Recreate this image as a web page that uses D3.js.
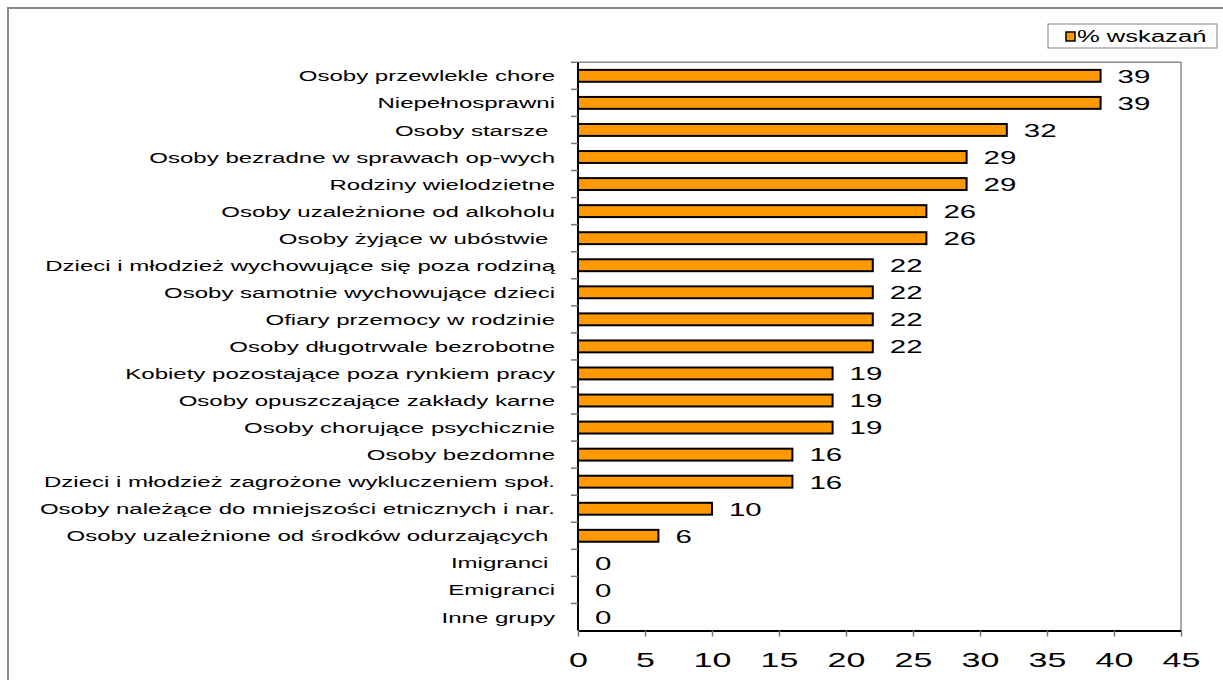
<!DOCTYPE html>
<html><head><meta charset="utf-8">
<script src="https://cdn.jsdelivr.net/npm/d3@7"></script>
<style>
html,body{margin:0;padding:0;background:#fff;}
svg{display:block;}
text{font-family:"Liberation Sans", Arial, sans-serif;white-space:pre;}
</style></head>
<body>
<svg id="chart" width="1223" height="680"></svg>
<script>
const categories = [
  "Osoby przewlekle chore",
  "Niepełnosprawni",
  "Osoby starsze ",
  "Osoby bezradne w sprawach op-wych",
  "Rodziny wielodzietne",
  "Osoby uzależnione od alkoholu",
  "Osoby żyjące w ubóstwie ",
  "Dzieci i młodzież wychowujące się poza rodziną",
  "Osoby samotnie wychowujące dzieci",
  "Ofiary przemocy w rodzinie",
  "Osoby długotrwale bezrobotne",
  "Kobiety pozostające poza rynkiem pracy",
  "Osoby opuszczające zakłady karne",
  "Osoby chorujące psychicznie",
  "Osoby bezdomne",
  "Dzieci i młodzież zagrożone wykluczeniem społ.",
  "Osoby należące do mniejszości etnicznych i nar.",
  "Osoby uzależnione od środków odurzających ",
  "Imigranci ",
  "Emigranci",
  "Inne grupy"
];
const values = [39,39,32,29,29,26,26,22,22,22,22,19,19,19,16,16,10,6,0,0,0];
const xTicks = [0,5,10,15,20,25,30,35,40,45];
const seriesName = "% wskazań";

const svg = d3.select("#chart");
const L = 578, R = 1181, T = 62.3, B = 630.5;
const SX = 1.55; // horizontal stretch of the original's text

// outer chart border (top and left visible)
svg.append("path").attr("d", `M8,680 L8,8 L1223,8`).attr("fill","none")
  .attr("stroke","#8a8a8a").attr("stroke-width",2);

const x = d3.scaleLinear().domain([0,45]).range([L,R]);
const y = d3.scaleBand().domain(categories).range([T,B]).paddingInner(0.56).paddingOuter(0.28);

// plot-area border (top & right gray)
svg.append("path").attr("d", `M${L},${T} L${R},${T} L${R},${B}`).attr("fill","none")
  .attr("stroke","#8c8c8c").attr("stroke-width",1.5);

// bars
svg.append("g").selectAll("rect").data(values).join("rect")
  .attr("x", x(0))
  .attr("y", (d,i)=> y(categories[i]))
  .attr("width", d => x(d)-x(0))
  .attr("height", y.bandwidth())
  .attr("fill", "#FF9900")
  .attr("stroke", d => d>0 ? "#000" : "none")
  .attr("stroke-width", 2);

// value labels
svg.append("g").selectAll("text").data(values).join("text")
  .attr("transform", (d,i)=> `translate(${x(d)+17},${y(categories[i]) + y.bandwidth()/2}) scale(${SX},1)`)
  .attr("dy","0.36em")
  .attr("font-size", 19)
  .attr("fill","#000")
  .text(d => d);

// y axis
const yBand = d3.scaleBand().domain(categories).range([T,B]);
const yAxis = svg.append("g").attr("transform", `translate(${L},0)`);
yAxis.append("line").attr("x1",0).attr("x2",0).attr("y1",T).attr("y2",B).attr("stroke","#000").attr("stroke-width",2);
yAxis.selectAll("line.tk").data(categories).join("line").attr("class","tk")
  .attr("x1",-7).attr("x2",0)
  .attr("y1", d=>yBand(d)).attr("y2", d=>yBand(d))
  .attr("stroke","#777").attr("stroke-width",1.5);
yAxis.selectAll("text").data(categories).join("text")
  .attr("transform", d => `translate(-23,${yBand(d)+yBand.bandwidth()/2}) scale(${SX},1)`)
  .attr("dy","0.36em").attr("text-anchor","end")
  .attr("font-size", 15.5).attr("fill","#000")
  .text(d=>d);

// x axis
const xAxis = d3.axisBottom(x).tickValues(xTicks).tickSize(6).tickPadding(12).tickSizeOuter(0);
const gx = svg.append("g").attr("transform", `translate(0,${B})`).call(xAxis);
gx.select(".domain").attr("stroke","#000").attr("stroke-width",2);
gx.selectAll(".tick line").attr("stroke","#777").attr("stroke-width",1.5);
gx.selectAll(".tick text").attr("font-size",20).attr("font-family",'"Liberation Sans", Arial, sans-serif').attr("fill","#000")
  .attr("transform", `scale(1.7,1)`).attr("y", 22);

// legend
const lg = svg.append("g");
lg.append("rect").attr("x",1048).attr("y",24).attr("width",169).attr("height",24)
  .attr("fill","#fff").attr("stroke","#808080").attr("stroke-width",1);
lg.append("rect").attr("x",1066).attr("y",32).attr("width",9).attr("height",9)
  .attr("fill","#FF9900").attr("stroke","#000").attr("stroke-width",1.5);
lg.append("text").attr("transform","translate(1077,36) scale(1.6,1)").attr("dy","0.36em").attr("font-size",16).text(seriesName);
</script>
</body></html>
